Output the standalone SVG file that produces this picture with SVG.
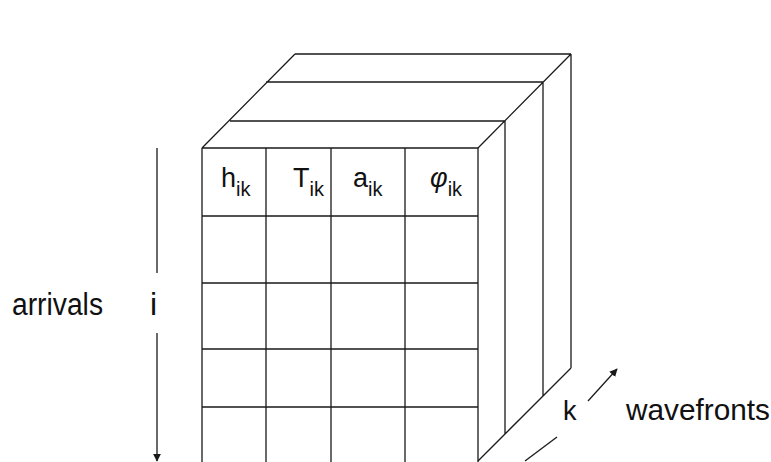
<svg xmlns="http://www.w3.org/2000/svg" width="771" height="462" viewBox="0 0 771 462">
<style>
.ln{stroke:#1a1a1a;stroke-width:1.3;fill:none}
.t{font-family:"Liberation Sans",Arial,sans-serif;fill:#111}
.cell{font-size:27px}
.sub{font-size:20px}
</style>
<defs>
<marker id="ah" viewBox="0 0 10 10" refX="9" refY="5" markerWidth="8" markerHeight="8" markerUnits="userSpaceOnUse" orient="auto">
<path d="M0,0 L10,5 L0,10 z" fill="#1a1a1a"/>
</marker>
</defs>
<rect width="771" height="462" fill="#fff"/>
<g id="cube">
<path class="ln" d="M202,148 H478 M230,121 H505 M266,82 H543 M295,54 H571 M202,148 L295,54 M478,148 L571,54 M505,121 V434 M543,82 V396 M571,54 V368 M571,368 L478,461"/>
</g>
<g id="grid">
<path class="ln" d="M202,148 V462 M478,148 V462 M266,148 V462 M331,148 V462 M405,148 V462 M202,216 H478 M202,283 H478 M202,349 H478 M202,407 H478"/>
</g>
<g id="header">
<text class="t" x="221" y="187"><tspan class="cell">h</tspan><tspan class="sub" dy="9">ik</tspan></text>
<text class="t" x="293" y="187"><tspan class="cell">T</tspan><tspan class="sub" dy="9">ik</tspan></text>
<text class="t" x="353" y="187"><tspan class="cell">a</tspan><tspan class="sub" dy="9">ik</tspan></text>
<text class="t" x="430" y="187"><tspan class="cell" font-style="italic">φ</tspan><tspan class="sub" dy="9">ik</tspan></text>
</g>
<g id="label-arrivals">
<text class="t" x="12" y="315" font-size="31" textLength="91" lengthAdjust="spacingAndGlyphs">arrivals</text>
<text class="t" x="150" y="315" font-size="32">i</text>
</g>
<g id="label-wavefronts">
<text class="t" x="563" y="420" font-size="27">k</text>
<text class="t" x="626" y="420" font-size="29" textLength="144" lengthAdjust="spacingAndGlyphs">wavefronts</text>
</g>
<g id="connectors">
<line class="ln" x1="157" y1="148" x2="157" y2="273"/>
<line class="ln" x1="157" y1="333" x2="157" y2="461" marker-end="url(#ah)"/>
<line class="ln" x1="525" y1="461" x2="557" y2="437"/>
<line class="ln" x1="588" y1="401" x2="617" y2="369" marker-end="url(#ah)"/>
</g>
</svg>
